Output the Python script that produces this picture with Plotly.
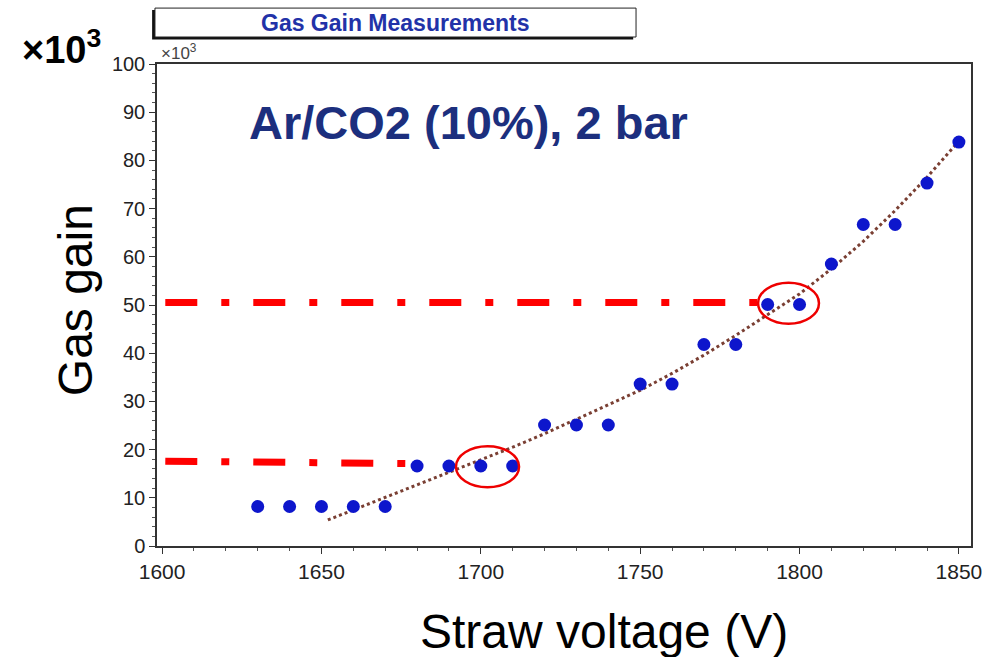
import plotly.graph_objects as go

# Measured data (gain in units of 10^3)
voltage = [1630, 1640, 1650, 1660, 1670, 1680, 1690, 1700, 1710, 1720, 1730, 1740,
           1750, 1760, 1770, 1780, 1790, 1800, 1810, 1820, 1830, 1840, 1850]
gain = [8.2, 8.2, 8.2, 8.2, 8.2, 16.6, 16.6, 16.6, 16.6, 25.1, 25.1, 25.1,
        33.6, 33.6, 41.8, 41.8, 50.1, 50.1, 58.5, 66.7, 66.7, 75.3, 83.8]

# Fit curve
fit_v = [1652, 1660, 1670, 1680, 1690, 1700, 1710, 1720, 1730, 1740, 1750,
         1760, 1770, 1780, 1790, 1800, 1810, 1820, 1830, 1840, 1850]
fit_g = [5.4, 7.5, 10.0, 12.7, 15.3, 17.9, 20.5, 23.3, 26.3, 29.3, 32.3,
         35.8, 39.6, 43.7, 48.0, 52.3, 57.5, 63.2, 69.6, 76.5, 84.0]

# Red dash-dot guide lines
guide_hi_v = [1601, 1789]
guide_hi_g = [50.5, 50.5]
guide_lo_v = [1601, 1676.5]
guide_lo_g = [17.6, 17.1]

# Highlight ellipses (x0, x1, y0, y1)
ellipses = [(1692.2, 1712.0, 12.2, 20.7), (1787.0, 1806.1, 46.1, 54.6)]

FONT = "Liberation Sans, Arial, Helvetica, sans-serif"

fig = go.Figure()
fig.add_trace(go.Scatter(x=fit_v, y=fit_g, mode="lines",
                         line=dict(color="#7a3f33", width=3, dash="dot"),
                         showlegend=False, hoverinfo="skip"))
fig.add_trace(go.Scatter(x=guide_hi_v, y=guide_hi_g, mode="lines",
                         line=dict(color="#ff0000", width=7, dash="32px,24px,8px,24px"),
                         showlegend=False))
fig.add_trace(go.Scatter(x=guide_lo_v, y=guide_lo_g, mode="lines",
                         line=dict(color="#ff0000", width=7, dash="32px,24px,8px,24px"),
                         showlegend=False))
fig.add_trace(go.Scatter(x=voltage, y=gain, mode="markers",
                         marker=dict(color="#0d16cc", size=13, line=dict(width=0)),
                         showlegend=False))

for (x0, x1, y0, y1) in ellipses:
    fig.add_shape(type="circle", xref="x", yref="y", x0=x0, x1=x1, y0=y0, y1=y1,
                  line=dict(color="#ee0000", width=2.5), layer="above")

# Title box with shadow
fig.add_shape(type="rect", xref="paper", yref="paper",
              x0=-0.006, x1=0.585, y0=1.051, y1=1.112,
              fillcolor="#111111", line=dict(width=0), layer="above")
fig.add_shape(type="rect", xref="paper", yref="paper",
              x0=-0.0025, x1=0.5885, y0=1.056, y1=1.116,
              fillcolor="white", line=dict(color="#222222", width=1), layer="above")

annotations = [
    dict(text="<b>Gas Gain Measurements</b>", x=0.292, y=1.086, xref="paper", yref="paper",
         showarrow=False, font=dict(family=FONT, size=23, color="#2232a8"),
         xanchor="center", yanchor="middle"),
    dict(text="<b>Ar/CO2 (10%), 2 bar</b>", x=0.110, y=0.878, xref="paper", yref="paper",
         showarrow=False, font=dict(family=FONT, size=47, color="#1c2f7e"),
         xanchor="left", yanchor="middle"),
    dict(text="<b>×10<sup>3</sup></b>", x=-0.168, y=1.035, xref="paper", yref="paper",
         showarrow=False, font=dict(family=FONT, size=38, color="black"),
         xanchor="left", yanchor="middle"),
    dict(text="×10<sup>3</sup>", x=0.003, y=1.025, xref="paper", yref="paper",
         showarrow=False, font=dict(family=FONT, size=17, color="#444444"),
         xanchor="left", yanchor="middle"),
    dict(text="Gas gain", x=-0.1007, y=0.51, xref="paper", yref="paper", textangle=-90,
         showarrow=False, font=dict(family=FONT, size=48, color="black"),
         xanchor="center", yanchor="middle"),
    dict(text="Straw voltage (V)", x=0.549, y=-0.178, xref="paper", yref="paper",
         showarrow=False, font=dict(family=FONT, size=48, color="black"),
         xanchor="center", yanchor="middle"),
]

fig.update_layout(
    width=1000, height=657,
    margin=dict(l=157, r=29, t=64, b=111),
    paper_bgcolor="white", plot_bgcolor="white",
    annotations=annotations,
    xaxis=dict(range=[1598.4, 1853.8], tickmode="array",
               tickvals=[1600, 1650, 1700, 1750, 1800, 1850],
               ticktext=["1600", "1650", "1700", "1750", "1800", "1850"],
               ticks="outside", ticklen=6, tickwidth=1, tickcolor="#333333",
               minor=dict(dtick=10, tick0=1600, ticks="outside", ticklen=3, tickcolor="#555555"),
               showgrid=False, zeroline=False,
               showline=True, linecolor="#333333", linewidth=1.5, mirror=True,
               tickfont=dict(family=FONT, size=21, color="#222222")),
    yaxis=dict(range=[0, 100], tickmode="array",
               tickvals=[0, 10, 20, 30, 40, 50, 60, 70, 80, 90, 100],
               ticktext=["0", "10", "20", "30", "40", "50", "60", "70", "80", "90", "100"],
               ticks="outside", ticklen=6, tickwidth=1, tickcolor="#333333",
               minor=dict(dtick=2, tick0=0, ticks="outside", ticklen=3, tickcolor="#555555"),
               showgrid=False, zeroline=False,
               showline=True, linecolor="#333333", linewidth=1.5, mirror=True,
               tickfont=dict(family=FONT, size=20, color="#222222")),
)

fig.write_html("out.html")
